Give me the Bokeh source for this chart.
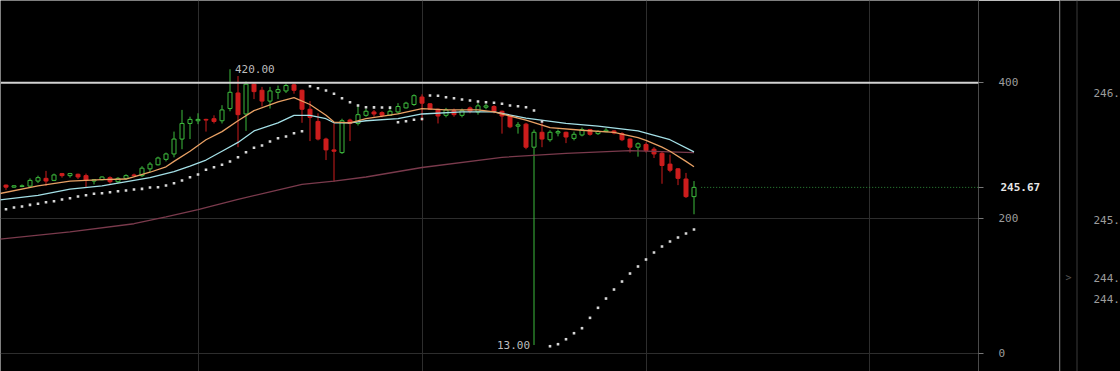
from bokeh.plotting import figure
from bokeh.layouts import row
from bokeh.models import Range1d, FixedTicker, Span, Label, LinearAxis
from bokeh.core.properties import value
from bokeh.embed import file_html
from bokeh.resources import INLINE

# ---------------- data ----------------
opens = [249, 246, 247, 247.5, 255, 259, 256, 266, 263, 265,
         263, 255, 257, 260, 254, 259, 264, 263, 273, 279,
         287, 295, 317, 340, 344, 346, 347, 344, 362, 385,
         354, 398, 389, 373, 386, 388, 397, 389, 361, 343,
         317, 301, 297, 345, 340, 352, 357, 356, 352, 357,
         363, 368, 379, 369, 361, 352, 359, 352, 363, 357,
         364, 365, 358, 351, 336, 339, 305, 327, 316, 326,
         327, 318, 323, 331, 325, 328, 329, 325, 317, 305,
         309, 302, 296, 280, 273, 258, 232]
highs = [250, 249, 250, 259, 263, 270, 266, 267, 267, 266,
         266, 258, 262, 262, 261, 265, 266, 277, 283, 291,
         297, 328, 360, 350, 355, 347, 352, 367, 420, 410,
         402, 400, 394, 394, 396, 399, 399, 390, 373, 355,
         319, 340, 347, 347, 368, 362, 360, 358, 362, 370,
         372, 383, 383, 370, 362, 363, 362, 362, 365, 370,
         369, 367, 359, 352, 342, 341, 331, 341, 330, 331,
         328, 328, 334, 332, 330, 333, 330, 327, 318, 312,
         312, 305, 298, 294, 274, 267, 255]
lows = [242, 245, 246, 246, 252, 248, 255, 260, 260, 258,
        246, 250, 256, 251, 252, 257, 262, 261, 268, 278,
        284, 290, 302, 317, 339, 328, 340, 340, 358, 305,
        329, 376, 365, 362, 376, 385, 384, 341, 314, 315,
        286, 254, 295, 314, 337, 350, 350, 349, 351, 354,
        362, 366, 344, 360, 340, 349, 350, 349, 355, 353,
        361, 355, 325, 333, 325, 302, 13, 305, 313, 321,
        311, 315, 321, 322, 323, 327, 324, 314, 297, 291,
        297, 289, 251, 268, 249, 230, 206]
closes = [246, 248, 248, 256, 260, 255, 264, 263, 266, 261,
          256, 257, 261, 254, 259, 263, 263, 274, 280, 289,
          295, 317, 340, 346, 346, 345, 343, 360, 386, 353,
          398, 387, 373, 388, 390, 396, 389, 361, 349, 317,
          301, 299, 344, 340, 353, 358, 354, 352, 358, 365,
          370, 381, 370, 361, 351, 360, 353, 359, 358, 366,
          366, 358, 351, 335, 338, 305, 327, 317, 327, 328,
          320, 324, 331, 324, 328, 330, 326, 316, 305, 310,
          300, 295, 278, 271, 259, 232, 245.67]

# fast moving average (orange), read at selected bars
fast_bar = [-1, 4, 8, 12, 15, 18, 20, 21, 23, 25, 27, 29, 31, 34, 36, 38, 40, 41,
            43, 45, 49, 52, 55, 59, 61, 65, 68, 72, 76, 79, 80, 82, 83, 85, 86]
fast_val = [236, 248, 255, 257, 258, 268, 276, 284, 299, 316, 328, 344, 359, 372, 378, 368, 352, 342,
            341, 347, 354, 362, 360, 360, 357, 345, 334, 330, 327, 319, 315, 305, 299, 284, 276]
# slower moving average (pale cyan)
slow_bar = [-1, 4, 8, 12, 14, 18, 21, 23, 25, 27, 29, 31, 34, 36, 38, 40, 41, 43, 45, 49,
            52, 57, 61, 65, 70, 74, 79, 83, 86]
slow_val = [227, 234, 243, 248, 252, 260, 269, 277, 286, 299, 312, 329, 341, 352, 352, 347, 341, 341, 344, 347,
            354, 357, 357, 348, 340, 336, 329, 316, 298]
# long moving average (maroon)
long_bar = [-1, 8, 16, 20, 24, 29, 33, 37, 41, 45, 52, 62, 70, 78, 86]
long_val = [169, 180, 192, 202, 213, 228, 239, 250, 255, 261, 275, 290, 296, 300, 297]

# parabolic SAR, one value per bar
sar = [213.4, 215.9, 217.4, 219.9, 221.4, 223.8, 225.2, 227.7, 229.7, 232.2,
       234.1, 236.2, 237.0, 238.5, 240.0, 241.0, 242.5, 243.5, 245.5, 245.9,
       248.4, 251.8, 255.8, 260.7, 264.6, 271.6, 275.4, 279.0, 283.8, 290.2,
       297.6, 304.1, 307.5, 313.4, 318.2, 320.7, 325.6, 328.6,
       395.0, 392.0, 388.6, 383.8, 377.3, 371.4, 366.5, 364.0, 363.8, 363.6, 363.4,
       341.8, 343.3, 345.4, 346.6,
       381.3, 381.0, 378.7, 377.3, 375.3, 373.9, 372.4, 371.4, 370.5, 369.0,
       366.5, 365.5, 364.0, 359.1, 342.9,
       11.2, 14.2, 21.5, 30.4, 37.8, 53.1, 67.9, 81.6, 94.9, 106.7,
       118.5, 128.9, 139.2, 149.5, 158.4, 165.8, 171.7, 177.6, 183.5]

resistance = 400
last_price = 245.67
price_ticks = [0, 200, 245.67, 400]
grid_levels = [0, 200, 400]
time_grid = [24.1, 52.0, 80.0, 107.9]
high_bar, high_text = 28, "420.00"
low_bar, low_text = 66, "13.00"
side_labels = ["246.", "245.", "244.", "244."]
side_levels = [246.0, 245.0, 244.55, 244.38]

# ---------------- styling ----------------
UP = "#3dba3d"
DOWN = "#cc1d1d"
MONO = "DejaVu Sans Mono"

n = len(opens)
bars = list(range(n))
rising = [c >= o for o, c in zip(opens, closes)]
wick_colors = [UP if r else DOWN for r in rising]
up_x = [i for i in bars if rising[i]]
dn_x = [i for i in bars if not rising[i]]
up_top = [closes[i] for i in up_x]
up_bot = [opens[i] for i in up_x]
dn_top = [opens[i] for i in dn_x]
dn_bot = [closes[i] for i in dn_x]

p = figure(width=1059, height=371,
           x_range=Range1d(-0.6875, 121.5625), y_range=Range1d(-26.1, 521.5),
           x_axis_location=None, y_axis_location="right",
           toolbar_location=None, output_backend="svg",
           background_fill_color="black", border_fill_color="black",
           outline_line_color=None,
           min_border_left=0, min_border_right=81, min_border_top=0, min_border_bottom=0)

p.xgrid.ticker = FixedTicker(ticks=time_grid)
p.ygrid.ticker = FixedTicker(ticks=grid_levels)
p.grid.grid_line_color = "#2d2d2d"
p.grid.grid_line_width = 1

ax = p.yaxis[0]
ax.ticker = FixedTicker(ticks=price_ticks)
ax.major_label_overrides = {245.67: " "}
ax.axis_line_color = "#4a4a4a"
ax.major_tick_line_color = "#777777"
ax.major_tick_out = 5
ax.major_tick_in = 0
ax.minor_tick_line_color = None
ax.major_label_standoff = 15
ax.major_label_text_font = MONO
ax.major_label_text_font_size = "11px"
ax.major_label_text_color = "#9c9c9c"

# second axis, only for the highlighted last-price tag, pulled back over the first
tag_axis = LinearAxis(ticker=FixedTicker(ticks=[last_price]),
                      axis_line_color=None, major_tick_line_color=None,
                      minor_tick_line_color=None, major_tick_out=0, major_tick_in=0,
                      major_label_standoff=-21,
                      major_label_text_font=MONO, major_label_text_font_size="11px",
                      major_label_text_font_style="bold",
                      major_label_text_color="#e6e6e6")
p.add_layout(tag_axis, "right")

p.add_layout(Span(location=resistance, dimension="width",
                  line_color="#d2d2d2", line_width=2))

# candles
p.segment(x0=bars, y0=lows, x1=bars, y1=highs, line_color=wick_colors, line_width=1)
p.vbar(x=up_x, top=up_top, bottom=up_bot, width=0.5,
       fill_color="black", line_color=UP, line_width=1)
p.vbar(x=dn_x, top=dn_top, bottom=dn_bot, width=0.5,
       fill_color=DOWN, line_color=DOWN, line_width=1)

# indicators
p.line(long_bar, long_val, line_color="#7a3a4c", line_width=1.3)
p.line(slow_bar, slow_val, line_color="#a3dfe6", line_width=1.3)
p.line(fast_bar, fast_val, line_color="#e8a064", line_width=1.3)
p.scatter(bars, sar, marker="square", size=2.6, fill_color="#d6d6d6", line_color=None)

# last price line
p.ray(x=[n - 0.1], y=[last_price], length=0, angle=0,
      line_color="#2f8a3a", line_dash="1 2", line_width=1)

p.add_layout(Label(x=high_bar, y=highs[high_bar], text=high_text, x_offset=5,
                   text_baseline="middle", text_align="left",
                   text_font=MONO, text_font_size="11px", text_color="#bdbdbd"))
p.add_layout(Label(x=low_bar, y=lows[low_bar], text=low_text, x_offset=-4,
                   text_baseline="middle", text_align="right",
                   text_font=MONO, text_font_size="11px", text_color="#bdbdbd"))

# side ladder panel
side = figure(width=61, height=371,
              x_range=Range1d(0, 61), y_range=Range1d(243.811, 246.732),
              x_axis_location=None, y_axis_location=None,
              toolbar_location=None, output_backend="svg",
              background_fill_color="black", border_fill_color="black",
              outline_line_color=None, min_border=0)
side.grid.visible = False
side.add_layout(Span(location=0.5, dimension="height", line_color="#3a3a3a", line_width=1))
side.add_layout(Span(location=17.5, dimension="height", line_color="#3a3a3a", line_width=1))
side.text(x=[34] * len(side_labels), y=side_levels, text=side_labels,
          text_font=value(MONO), text_font_size="11px", text_color="#9c9c9c",
          text_baseline="middle", text_align="left")
side.text(x=[9], y=[side_levels[2]], text=[">"],
          text_font=value(MONO), text_font_size="10px", text_color="#555555",
          text_baseline="middle", text_align="center")

layout = row(p, side)
open("out.html", "w").write(file_html(layout, INLINE))
